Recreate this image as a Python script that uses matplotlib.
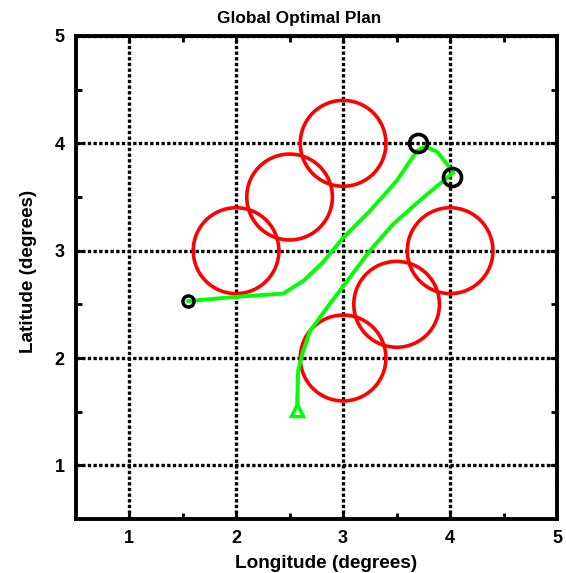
import matplotlib
matplotlib.use("Agg")
import matplotlib.pyplot as plt
import numpy as np
from matplotlib.patches import Circle

# Data
circle_x = [3.0, 2.5, 2.0, 4.0, 3.5, 3.0]
circle_y = [4.0, 3.5, 3.0, 3.0, 2.5, 2.0]
circle_r = [0.4, 0.4, 0.4, 0.4, 0.4, 0.4]

path1_x = [1.55, 2.0, 2.44, 2.63, 2.81, 3.00, 3.25, 3.50, 3.69, 3.77, 3.88, 4.03]
path1_y = [2.53, 2.57, 2.60, 2.72, 2.89, 3.12, 3.37, 3.65, 3.93, 3.97, 3.92, 3.73]

path2_x = [4.02, 3.72, 3.47, 3.25, 3.04, 2.85, 2.69, 2.62, 2.58, 2.57]
path2_y = [3.72, 3.47, 3.25, 3.00, 2.72, 2.47, 2.25, 2.04, 1.88, 1.55]

start_x, start_y = [1.55], [2.53]
way_x, way_y = [3.70, 4.02], [4.00, 3.69]
goal_x, goal_y = [2.57], [1.52]

ticks = [1, 2, 3, 4, 5]
tick_labels = ["1", "2", "3", "4", "5"]
minor_ticks = [1.5, 2.5, 3.5, 4.5]

plt.rcParams['font.family'] = ['Liberation Sans', 'DejaVu Sans']

fig = plt.figure(figsize=(5.66, 5.73), dpi=100)
ax = fig.add_axes([0.1334, 0.0942, 0.851, 0.843])

ax.set_xlim(0.5, 5)
ax.set_ylim(0.5, 5)

ax.set_xticks(ticks)
ax.set_xticklabels(tick_labels)
ax.set_yticks(ticks)
ax.set_yticklabels(tick_labels)
ax.set_xticks(minor_ticks, minor=True)
ax.set_yticks(minor_ticks, minor=True)

ax.grid(True, which='major', color='black', linestyle=(0, (1.0, 0.7)), linewidth=2.4)
ax.set_axisbelow(True)

for cx, cy, r in zip(circle_x, circle_y, circle_r):
    ax.add_patch(Circle((cx, cy), r, fill=False, edgecolor='#ff0000', linewidth=2.6, zorder=3))

ax.plot(path1_x, path1_y, color='#00ff00', linewidth=2.8, zorder=4, solid_capstyle='round', solid_joinstyle='round')
ax.plot(path2_x, path2_y, color='#00ff00', linewidth=2.8, zorder=4, solid_capstyle='round', solid_joinstyle='round')

ax.plot(start_x, start_y, 'o', ms=8, mfc='none', mec='black', mew=2.5, zorder=5)
ax.plot(way_x, way_y, 'o', ms=13, mfc='none', mec='black', mew=2.6, zorder=5)
ax.plot(goal_x, goal_y, '^', ms=9, mfc='none', mec='#00ff00', mew=2.5, zorder=5)

for s in ax.spines.values():
    s.set_linewidth(2.8)
    s.set_color('black')

ax.tick_params(which='both', direction='in', top=True, right=True, width=2, color='black')
ax.tick_params(which='major', length=5, labelsize=13, pad=8)
ax.tick_params(which='minor', length=4)
for lab in ax.get_xticklabels() + ax.get_yticklabels():
    lab.set_fontweight('bold')

ax.set_title("Global Optimal Plan", fontsize=12.4, fontweight='bold', pad=9, x=0.464)
ax.set_xlabel("Longitude (degrees)", fontsize=13.7, fontweight='bold', labelpad=5)
ax.xaxis.set_label_coords(0.521, -0.075)
ax.set_ylabel("Latitude (degrees)", fontsize=13.6, fontweight='bold', labelpad=12)
ax.yaxis.set_label_coords(-0.08, 0.513)

fig.savefig("out.png", dpi=100)
